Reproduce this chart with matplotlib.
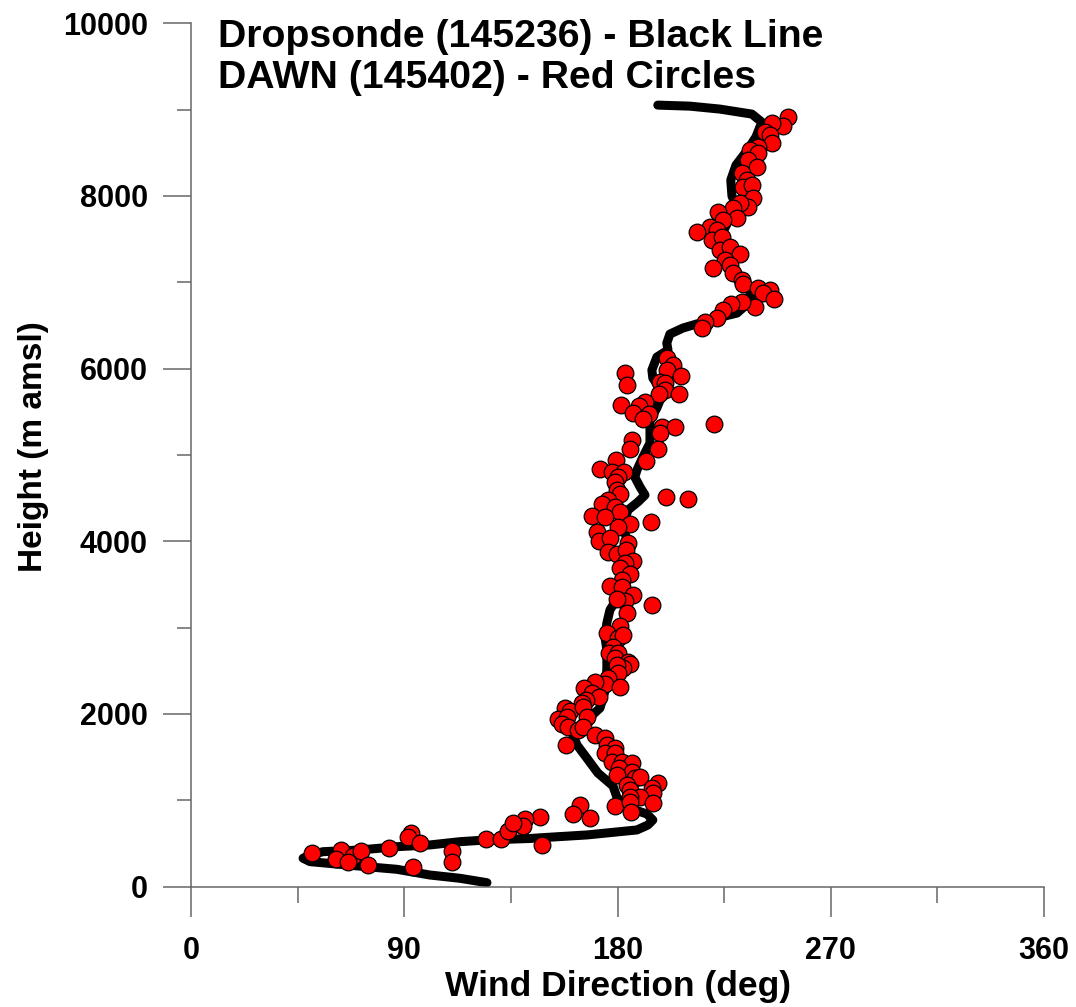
import matplotlib
matplotlib.use("Agg")
import matplotlib.pyplot as plt
from matplotlib.ticker import MultipleLocator

# Dropsonde profile (black line)
sonde_dir = [197.0, 210.5, 223.2, 236.7, 240.9, 238.4, 234.2, 230.0, 227.8, 228.3,
             230.4, 226.6, 223.2, 224.9, 229.5, 235.0, 236.7, 230.4, 221.9, 207.6,
             202.1, 200.8, 201.3, 196.6, 194.5, 194.9, 199.2, 196.6, 193.7, 193.7,
             190.7, 188.2, 187.3, 189.5, 191.6, 188.6, 184.4, 183.1, 183.1, 184.4,
             184.0, 183.1, 181.9, 180.2, 176.8, 175.5, 174.7, 175.5, 175.5, 175.1,
             172.6, 166.2, 161.2, 162.9, 166.7, 171.7, 178.1, 179.7, 181.9, 186.1,
             192.4, 194.9, 192.8, 188.2, 167.1, 152.7, 143.0, 124.9, 113.5, 100.8,
             86.9, 71.3, 55.7, 50.2, 47.3, 50.2, 65.8, 86.9, 100.8, 113.5, 124.9]
sonde_hgt = [9052, 9040, 9006, 8948, 8855, 8682, 8508, 8357, 8184, 7998,
             7871, 7697, 7512, 7315, 7141, 6968, 6794, 6643, 6586, 6470,
             6400, 6296, 6215, 6134, 5983, 5891, 5717, 5543, 5404, 5138,
             4976, 4825, 4744, 4629, 4536, 4455, 4362, 4246, 4096, 3980,
             3818, 3667, 3517, 3355, 3204, 3054, 2892, 2741, 2533, 2301,
             2069, 1907, 1757, 1641, 1502, 1317, 1166, 1039, 969, 900,
             842, 772, 714, 657, 599, 575, 558, 541, 521, 483,
             463, 425, 405, 367, 329, 290, 251, 201, 135, 97, 46]

# DAWN retrievals (red circles)
dawn_dir = [252.0, 249.9, 245.0, 242.2, 244.3, 245.0, 239.4, 235.9, 239.2, 235.0,
            238.7, 232.4, 234.5, 233.0, 236.6, 237.3, 235.1, 231.6, 228.8, 222.5,
            230.3, 224.6, 219.0, 213.4, 221.8, 219.7, 223.9, 223.2, 227.4, 231.6,
            225.3, 220.4, 227.4, 228.8, 232.4, 233.0, 239.4, 244.3, 241.5, 246.0,
            238.0, 232.4, 228.1, 224.6, 221.8, 216.9, 215.5, 183.1, 200.7, 203.5,
            200.7, 207.0, 183.8, 197.9, 200.0, 200.0, 197.5, 206.0, 181.4, 191.6,
            189.2, 186.6, 193.2, 190.6, 198.6, 204.2, 220.8, 197.9, 186.0, 185.2,
            197.2, 191.9, 179.3, 172.6, 177.5, 182.7, 180.3, 178.9, 179.6, 181.0,
            176.1, 173.3, 178.9, 181.0, 169.1, 174.7, 200.4, 209.8, 194.0, 185.2,
            180.3, 171.2, 172.3, 176.8, 184.5, 176.1, 179.6, 183.5, 186.6, 183.1,
            181.0, 185.2, 181.7, 176.8, 181.7, 186.6, 183.1, 179.6, 184.1, 194.4,
            181.0, 175.4, 180.3, 182.4, 178.2, 176.5, 180.3, 178.9, 184.5, 185.2,
            182.4, 179.6, 180.3, 176.1, 174.7, 181.0, 170.5, 165.9, 169.1, 172.3,
            166.7, 164.9, 157.8, 159.9, 165.5, 155.0, 158.5, 156.4, 159.2, 163.4,
            167.0, 165.5, 158.2, 170.5, 174.7, 175.4, 178.9, 174.7, 178.9, 177.5,
            181.7, 183.8, 186.0, 180.7, 186.0, 179.6, 187.3, 189.5, 183.8, 197.2,
            194.4, 185.2, 194.8, 189.5, 185.2, 194.8, 178.9, 185.2, 185.7, 164.1,
            161.3, 168.4, 147.3, 140.9, 140.2, 148.0, 50.9, 63.3, 61.2, 68.2,
            66.4, 71.6, 74.8, 83.7, 92.8, 91.7, 96.6, 93.8, 110.0, 110.0,
            124.3, 130.8, 133.9, 136.0]
dawn_hgt = [8910, 8809, 8847, 8743, 8705, 8609, 8569, 8531, 8496, 8415,
            8338, 8261, 8184, 8106, 8126, 7972, 7874, 7914, 7856, 7817,
            7740, 7720, 7643, 7578, 7605, 7489, 7527, 7373, 7411, 7327,
            7257, 7161, 7199, 7103, 7026, 6979, 6929, 6910, 6872, 6806,
            6716, 6774, 6748, 6678, 6582, 6543, 6466, 5945, 6119, 6041,
            5983, 5914, 5810, 5848, 5829, 5752, 5705, 5705, 5578, 5616,
            5566, 5482, 5474, 5416, 5327, 5320, 5358, 5250, 5173, 5065,
            5065, 4933, 4941, 4834, 4806, 4806, 4748, 4690, 4594, 4548,
            4478, 4432, 4400, 4343, 4293, 4285, 4516, 4486, 4227, 4197,
            4162, 4111, 4007, 4034, 3977, 3879, 3853, 3899, 3775, 3745,
            3687, 3621, 3552, 3482, 3467, 3378, 3312, 3328, 3166, 3262,
            3019, 2934, 2876, 2909, 2779, 2710, 2703, 2645, 2606, 2579,
            2529, 2567, 2471, 2413, 2347, 2316, 2374, 2297, 2240, 2193,
            2162, 2124, 2066, 2038, 2077, 1938, 1969, 1884, 1846, 1815,
            1969, 1853, 1641, 1757, 1718, 1641, 1603, 1545, 1545, 1448,
            1448, 1371, 1429, 1371, 1332, 1293, 1255, 1274, 1178, 1197,
            1139, 1120, 1082, 1042, 1042, 973, 935, 984, 869, 946,
            838, 799, 804, 780, 703, 483, 387, 425, 317, 356,
            290, 417, 251, 445, 618, 579, 510, 225, 417, 290,
            549, 549, 648, 741]

x_ticks = [0, 90, 180, 270, 360]
y_ticks = [0, 2000, 4000, 6000, 8000, 10000]
title_lines = ["Dropsonde (145236) - Black Line", "DAWN (145402) - Red Circles"]

FONT = "Liberation Sans"
plt.rcParams["font.family"] = [FONT, "DejaVu Sans"]

fig = plt.figure(figsize=(10.76, 10.07), dpi=100)
ax = fig.add_axes([0.1775, 0.1195, 0.7928, 0.8574])

ax.plot(sonde_dir, sonde_hgt, color="black", lw=6.5, solid_capstyle="round",
        solid_joinstyle="round", zorder=2)
ax.plot(dawn_dir, dawn_hgt, linestyle="none", marker="o", ms=12,
        mfc="#ff0000", mec="black", mew=0.9, zorder=3)

ax.set_xlim(0, 360)
ax.set_ylim(0, 10000)
ax.set_xticks(x_ticks)
ax.set_yticks(y_ticks)
ax.xaxis.set_minor_locator(MultipleLocator(45))
ax.yaxis.set_minor_locator(MultipleLocator(1000))

spine_col = "#666666"
for s in ["top", "right"]:
    ax.spines[s].set_visible(False)
for s in ["left", "bottom"]:
    ax.spines[s].set_color(spine_col)
    ax.spines[s].set_linewidth(1.1)

ax.tick_params(axis="x", which="major", direction="out", length=21.5, width=1.1,
               color=spine_col, pad=14, labelsize=22)
ax.tick_params(axis="x", which="minor", direction="out", length=11.5, width=1.1,
               color=spine_col)
ax.tick_params(axis="y", which="major", direction="out", length=20, width=1.1,
               color=spine_col, pad=11, labelsize=22)
ax.tick_params(axis="y", which="minor", direction="out", length=10, width=1.1,
               color=spine_col)
for lab in ax.get_xticklabels() + ax.get_yticklabels():
    lab.set_fontweight("bold")

ax.set_xlabel("Wind Direction (deg)", fontsize=25.5, fontweight="bold")
ax.set_ylabel("Height (m amsl)", fontsize=24, fontweight="bold")
ax.xaxis.label.set_va("center")
ax.yaxis.label.set_va("center")
ax.xaxis.set_label_coords(0.5, -0.116)
ax.yaxis.set_label_coords(-0.1846, 0.51)

fig.text(218 / 1076, 1 - 47 / 1007, title_lines[0], fontsize=28.3,
         fontweight="bold", ha="left", va="baseline")
fig.text(218 / 1076, 1 - 88 / 1007, title_lines[1], fontsize=28.3,
         fontweight="bold", ha="left", va="baseline")

fig.savefig("out.png", dpi=100)
